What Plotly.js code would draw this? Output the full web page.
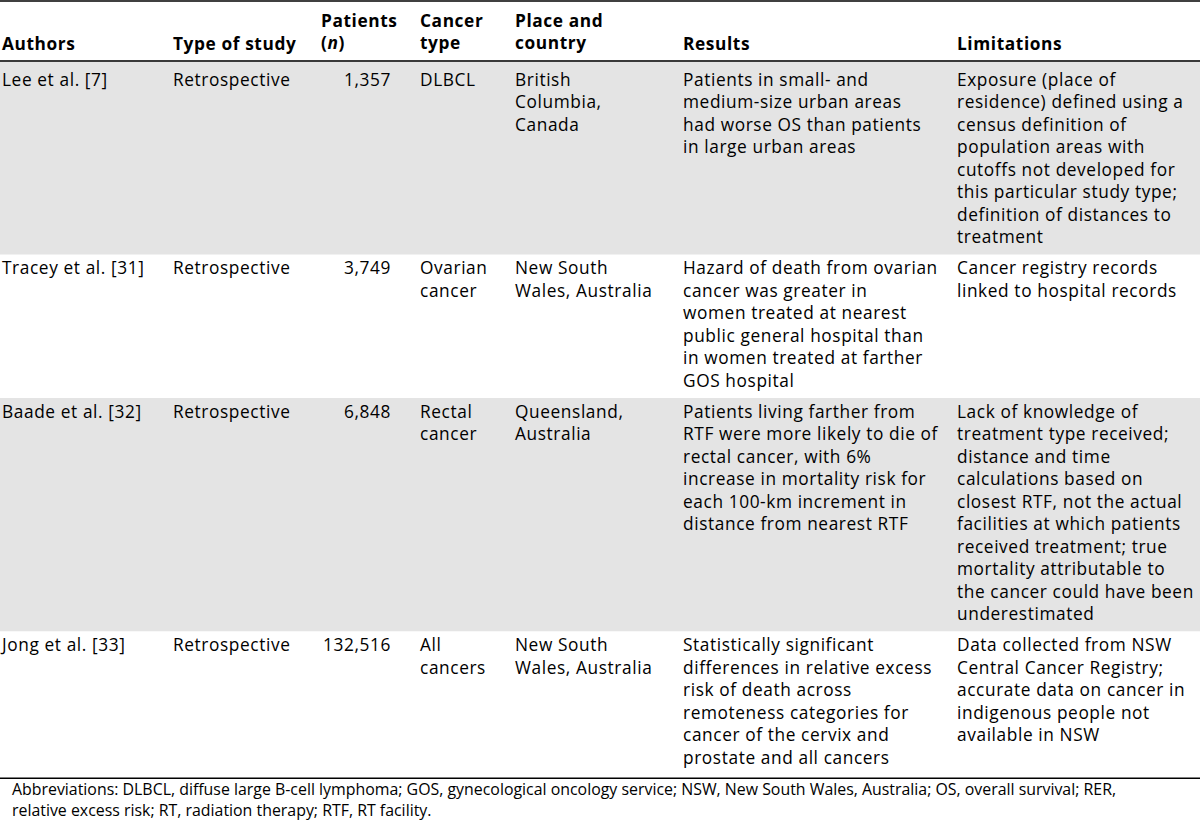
<!DOCTYPE html>
<html>
<head>
<meta charset="utf-8">
<script src="https://cdn.plot.ly/plotly-3.0.1.min.js"></script>
<style>
html,body{margin:0;padding:0;background:#fff;}
#chart{width:1200px;height:827px;}
#chart .scatterlayer .trace:nth-child(1) text,
#chart .scatterlayer .trace:nth-child(2) text{letter-spacing:0.6px;}
</style>
</head>
<body>
<div id="chart"></div>
<script>
// ---------- data ----------
const headers = ["Authors", "Type of study", "Patients\n(<i>n</i>)", "Cancer\ntype", "Place and\ncountry", "Results", "Limitations"];
const authors = ["Lee et al. [7]", "Tracey et al. [31]", "Baade et al. [32]", "Jong et al. [33]"];
const studyType = ["Retrospective", "Retrospective", "Retrospective", "Retrospective"];
const patients = ["1,357", "3,749", "6,848", "132,516"];
const cancerType = ["DLBCL", "Ovarian\ncancer", "Rectal\ncancer", "All\ncancers"];
const place = ["British\nColumbia,\nCanada", "New South\nWales, Australia", "Queensland,\nAustralia", "New South\nWales, Australia"];
const results = [
  "Patients in small- and\nmedium-size urban areas\nhad worse OS than patients\nin large urban areas",
  "Hazard of death from ovarian\ncancer was greater in\nwomen treated at nearest\npublic general hospital than\nin women treated at farther\nGOS hospital",
  "Patients living farther from\nRTF were more likely to die of\nrectal cancer, with 6%\nincrease in mortality risk for\neach 100-km increment in\ndistance from nearest RTF",
  "Statistically significant\ndifferences in relative excess\nrisk of death across\nremoteness categories for\ncancer of the cervix and\nprostate and all cancers"
];
const limitations = [
  "Exposure (place of\nresidence) defined using a\ncensus definition of\npopulation areas with\ncutoffs not developed for\nthis particular study type;\ndefinition of distances to\ntreatment",
  "Cancer registry records\nlinked to hospital records",
  "Lack of knowledge of\ntreatment type received;\ndistance and time\ncalculations based on\nclosest RTF, not the actual\nfacilities at which patients\nreceived treatment; true\nmortality attributable to\nthe cancer could have been\nunderestimated",
  "Data collected from NSW\nCentral Cancer Registry;\naccurate data on cancer in\nindigenous people not\navailable in NSW"
];
const footnote = [
  "Abbreviations: DLBCL, diffuse large B-cell lymphoma; GOS, gynecological oncology service; NSW, New South Wales, Australia; OS, overall survival; RER,",
  "relative excess risk; RT, radiation therapy; RTF, RT facility."
];
const columnsData = [authors, studyType, patients, cancerType, place, results, limitations];

// ---------- layout / style ----------
const W = 1200, H = 827;
const FONT = "Open Sans, sans-serif";
const FS = 17.3, FS_NOTE = 15.9;
const LH = 1.3 * FS;               // Plotly's multi-line spacing
const COL_X = [2, 173, 321, 420, 515, 683, 957];
const NUM_RIGHT_X = 391;
const COL_RIGHT = [false, false, true, false, false, false, false];
const HEADER_TOP = 1, HEADER_BOTTOM = 61, HEADER_LAST_BASE = 49.5;
const ROW_TOP_PAD = 20, ROW_BOTTOM_PAD = 11, FIRST_ROW_EXTRA = 5, TABLE_END_GAP = 3.5;
const NOTE_X = 12, NOTE_GAP = 17, NOTE_LH = 21;
const ROW_FILL = ["#e4e4e4", "rgba(0,0,0,0)", "#e4e4e4", "rgba(0,0,0,0)"];

const traces = [];
const shapes = [];

// header (bottom-aligned)
const hx = [], hy = [], ht = [];
headers.forEach((h, c) => {
  hx.push(COL_X[c]);
  hy.push(HEADER_LAST_BASE + 0.25 * FS);
  ht.push(h.split("\n").join("<br>"));
});
traces.push({type: "scatter", mode: "text", x: hx, y: hy, text: ht, textposition: "top right",
  textfont: {family: FONT, size: FS, color: "#000", weight: "bold"}, cliponaxis: false, hoverinfo: "skip"});

// body (top-aligned cells)
let rowTop = HEADER_BOTTOM;
const bx = [], by = [], bt = [], bpos = [];
for (let r = 0; r < authors.length; r++) {
  const cells = columnsData.map(col => col[r].split("\n"));
  const n = Math.max(...cells.map(c => c.length));
  const firstBase = rowTop + ROW_TOP_PAD + (r === 0 ? FIRST_ROW_EXTRA : 0);
  const rowBottom = firstBase + (n - 1) * LH + ROW_BOTTOM_PAD;
  shapes.push({type: "rect", xref: "x", yref: "y", x0: 0, x1: W, y0: rowTop, y1: rowBottom,
    fillcolor: ROW_FILL[r], line: {width: 0}, layer: "below"});
  cells.forEach((lines, c) => {
    bx.push(COL_RIGHT[c] ? NUM_RIGHT_X : COL_X[c]);
    by.push(firstBase - 0.75 * FS);
    bt.push(lines.join("<br>"));
    bpos.push(COL_RIGHT[c] ? "bottom left" : "bottom right");
  });
  rowTop = rowBottom;
}
traces.push({type: "scatter", mode: "text", x: bx, y: by, text: bt, textposition: bpos,
  textfont: {family: FONT, size: FS, color: "#000"}, cliponaxis: false, hoverinfo: "skip"});

const tableEnd = rowTop + TABLE_END_GAP;

// footnote
const nx = [], ny = [];
footnote.forEach((ln, i) => {
  nx.push(NOTE_X);
  ny.push(tableEnd + NOTE_GAP + i * NOTE_LH - 0.25 * FS_NOTE);
});
traces.push({type: "scatter", mode: "text", x: nx, y: ny, text: footnote, textposition: "middle right",
  textfont: {family: FONT, size: FS_NOTE, color: "#000"}, cliponaxis: false, hoverinfo: "skip"});

// rules
shapes.push({type: "line", xref: "x", yref: "y", x0: 0, x1: W, y0: HEADER_TOP, y1: HEADER_TOP, line: {color: "#000", width: 1.5}});
shapes.push({type: "line", xref: "x", yref: "y", x0: 0, x1: W, y0: HEADER_BOTTOM, y1: HEADER_BOTTOM, line: {color: "#3a3a3a", width: 2}});
shapes.push({type: "line", xref: "x", yref: "y", x0: 0, x1: W, y0: tableEnd, y1: tableEnd, line: {color: "#000", width: 1.5}});

const layout = {
  width: W, height: H,
  margin: {l: 0, r: 0, t: 0, b: 0},
  paper_bgcolor: "#fff", plot_bgcolor: "#fff",
  showlegend: false,
  xaxis: {range: [0, W], visible: false, fixedrange: true},
  yaxis: {range: [H, 0], visible: false, fixedrange: true},
  shapes: shapes
};

Plotly.newPlot("chart", traces, layout, {displayModeBar: false, staticPlot: true});
</script>
</body>
</html>
